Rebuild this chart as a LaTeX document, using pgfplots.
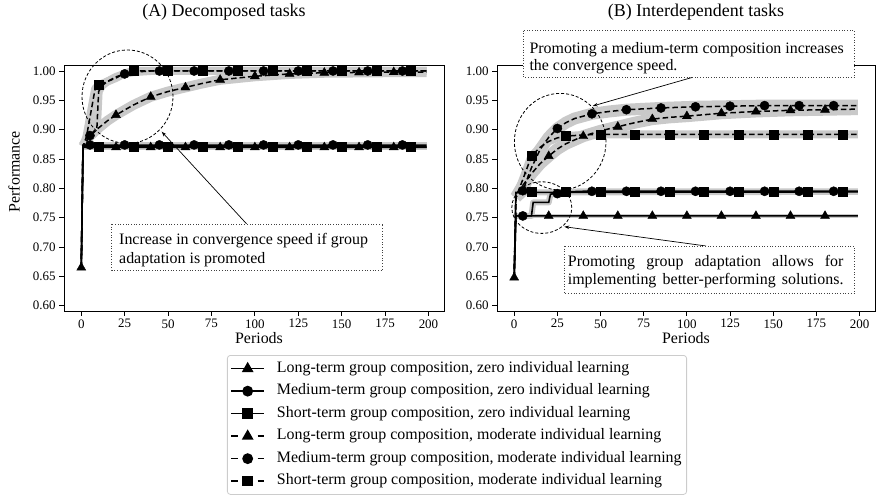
\documentclass[border=0pt]{standalone}
\usepackage{fontspec}
\setmainfont{Liberation Serif}
\usepackage{pgfplots}
\usepackage{pgfplotstable}
\pgfplotsset{compat=1.18}
\usetikzlibrary{arrows.meta}

% ---------- Panel A (decomposed) ----------
\pgfplotstableread{
t v
0 0.665
1 0.870
199 0.870
}\LZA
\pgfplotstableread{
t v
0 0.665
1 0.8735
199 0.8735
}\MZA
\pgfplotstableread{
t v
0 0.665
1 0.8705
199 0.8705
}\SZA
\pgfplotstableread{
t v
0 0.665
1 0.872
5 0.889
10 0.903
15 0.915
20 0.925
30 0.942
40 0.956
50 0.965
60 0.972
70 0.979
80 0.985
90 0.988
100 0.991
120 0.995
140 0.997
160 0.9975
180 0.998
199 0.998
}\LMA
\pgfplotstableread{
t v
0 0.665
1 0.872
5 0.890
9 0.903
10 0.965
12 0.975
15 0.982
20 0.990
25 0.995
30 0.998
40 1.000
199 1.000
}\MMA
\pgfplotstableread{
t v
0 0.665
1 0.872
3 0.888
8 0.970
10 0.976
15 0.982
20 0.988
25 0.996
30 1.000
199 1.000
}\SMA
% ---------- Panel B (interdependent) ----------
\pgfplotstableread{
t v
0 0.648
1 0.753
199 0.753
}\LZB
\pgfplotstableread{
t v
0 0.648
1 0.753
10 0.753
11 0.776
20 0.776
21 0.790
30 0.794
40 0.795
199 0.795
}\MZB
\pgfplotstableread{
t v
0 0.648
1 0.793
199 0.794
}\SZB
\pgfplotstableread{
t v
0 0.648
1 0.785
5 0.805
10 0.825
15 0.842
20 0.855
25 0.867
30 0.876
40 0.889
50 0.898
60 0.905
70 0.912
80 0.918
90 0.921
100 0.923
120 0.928
140 0.931
160 0.933
180 0.934
199 0.935
}\LMB
\pgfplotstableread{
t v
0 0.648
1 0.785
5 0.796
10 0.835
15 0.866
20 0.887
25 0.902
30 0.912
35 0.919
45 0.927
55 0.931
65 0.934
85 0.937
105 0.939
125 0.940
145 0.941
199 0.941
}\MMB
\pgfplotstableread{
t v
0 0.648
1 0.785
5 0.815
10 0.855
15 0.870
20 0.880
25 0.886
30 0.889
40 0.891
50 0.892
199 0.892
}\SMB

\pgfplotsset{
 myax/.style={
   scale only axis, width=380bp, height=246bp,
   xmin=-9.95, xmax=208.95, ymin=0.591, ymax=1.0102,
   xtick={0,25,50,75,100,125,150,175,200},
   ytick={0.60,0.65,0.70,0.75,0.80,0.85,0.90,0.95,1.00},
   yticklabel style={/pgf/number format/.cd, fixed, fixed zerofill, precision=2},
   /pgf/number format/assume math mode=true,
   ticklabel style={font=\fontsize{13}{15}\selectfont},
   tick align=outside, xtick pos=left, ytick pos=left,
   major tick length=4.9bp,
   tick style={black, line width=0.8bp},
   axis line style={black, line width=0.8bp},
   clip=false,
 },
 band/.style={draw=black!21, line width=#1, no marks, forget plot, line join=round, restrict x to domain=1:199},
 zl/.style={black, solid, line width=1.6bp, no marks, forget plot},
 ml/.style={black, dash pattern=on 5.5bp off 3bp, line width=1.5bp, no marks, forget plot},
 tri/.style={only marks, mark=triangle*, mark size=5.2bp, black, forget plot},
 cir/.style={only marks, mark=*, mark size=4.6bp, black, forget plot},
 sq/.style={only marks, mark=square*, mark size=4.5bp, black, forget plot},
}

\begin{document}
\begin{tikzpicture}
\useasboundingbox (0,0) rectangle (876bp,497bp);

% ================= Panel A =================
\begin{axis}[myax, at={(64bp,186bp)}, anchor=south west,
  legend style={at={(0.4289,-0.1789)}, anchor=north west, draw=black!20,
    rounded corners=3bp, line width=0.8bp, fill=white,
    font=\fontsize{16}{19}\selectfont, row sep=0bp,
    inner xsep=3bp, inner ysep=2bp,
    nodes={text height=13bp, text depth=5.5bp, inner sep=2bp},
    /tikz/every odd column/.append style={column sep=10bp}},
  legend cell align=left,
  legend image code/.code={\draw[mark repeat=2,mark phase=2,#1] plot coordinates {(0bp,0bp) (16.5bp,0bp) (33bp,0bp)};},
]
\addlegendimage{black, solid, line width=1.6bp, mark=triangle*, mark size=5.2bp, mark options={solid}}
\addlegendentry{Long-term group composition, zero individual learning}
\addlegendimage{black, solid, line width=1.6bp, mark=*, mark size=4.6bp, mark options={solid}}
\addlegendentry{Medium-term group composition, zero individual learning}
\addlegendimage{black, solid, line width=1.6bp, mark=square*, mark size=4.5bp, mark options={solid}}
\addlegendentry{Short-term group composition, zero individual learning}
\addlegendimage{black, line width=1.6bp, dash pattern=on 6.6bp off 19.8bp, mark=triangle*, mark size=5.2bp, mark options={solid}}
\addlegendentry{Long-term group composition, moderate individual learning}
\addlegendimage{black, line width=1.6bp, dash pattern=on 6.6bp off 19.8bp, mark=*, mark size=4.6bp, mark options={solid}}
\addlegendentry{Medium-term group composition, moderate individual learning}
\addlegendimage{black, line width=1.6bp, dash pattern=on 6.6bp off 19.8bp, mark=square*, mark size=4.5bp, mark options={solid}}
\addlegendentry{Short-term group composition, moderate individual learning}

% bands
\addplot[band=6bp] table[x=t,y=v] {\LZA};
\addplot[band=6bp] table[x=t,y=v] {\MZA};
\addplot[band=6bp] table[x=t,y=v] {\SZA};
\addplot[band=10bp] table[x=t,y=v] {\LMA};
\addplot[band=8bp] table[x=t,y=v] {\MMA};
\addplot[band=8bp] table[x=t,y=v] {\SMA};
% lines
\addplot[zl] table[x=t,y=v] {\LZA};
\addplot[zl] table[x=t,y=v] {\MZA};
\addplot[zl] table[x=t,y=v] {\SZA};
\addplot[ml] table[x=t,y=v] {\LMA};
\addplot[ml] table[x=t,y=v] {\MMA};
\addplot[ml] table[x=t,y=v] {\SMA};
% markers
\addplot[tri] coordinates {(0,0.665)(20,0.870)(40,0.870)(60,0.870)(80,0.870)(100,0.870)(120,0.870)(140,0.870)(160,0.870)(180,0.870)};
\addplot[cir] coordinates {(5,0.874)(25,0.874)(45,0.874)(65,0.874)(85,0.874)(105,0.874)(125,0.874)(145,0.874)(165,0.874)(185,0.874)};
\addplot[sq] coordinates {(10,0.8705)(30,0.8705)(50,0.8705)(70,0.8705)(90,0.8705)(110,0.8705)(130,0.8705)(150,0.8705)(170,0.8705)(190,0.8705)};
\addplot[tri] coordinates {(20,0.925)(40,0.956)(60,0.972)(80,0.985)(100,0.991)(120,0.995)(140,0.997)(160,0.9975)(180,0.998)};
\addplot[cir] coordinates {(5,0.890)(25,0.995)(45,1.0)(65,1.0)(85,1.0)(105,1.0)(125,1.0)(145,1.0)(165,1.0)(185,1.0)};
\addplot[sq] coordinates {(10,0.976)(30,1.0)(50,1.0)(70,1.0)(90,1.0)(110,1.0)(130,1.0)(150,1.0)(170,1.0)(190,1.0)};
\end{axis}

% ================= Panel B =================
\begin{axis}[myax, at={(497bp,186bp)}, anchor=south west, width=378bp]
\addplot[band=4bp] table[x=t,y=v] {\LZB};
\addplot[band=6bp] table[x=t,y=v] {\MZB};
\addplot[band=6bp] table[x=t,y=v] {\SZB};
\addplot[band=12bp] table[x=t,y=v] {\LMB};
\addplot[band=12bp] table[x=t,y=v] {\MMB};
\addplot[band=8bp] table[x=t,y=v] {\SMB};
\addplot[zl] table[x=t,y=v] {\LZB};
\addplot[zl] table[x=t,y=v] {\MZB};
\addplot[zl] table[x=t,y=v] {\SZB};
\addplot[ml] table[x=t,y=v] {\LMB};
\addplot[ml] table[x=t,y=v] {\MMB};
\addplot[ml] table[x=t,y=v] {\SMB};
\addplot[tri] coordinates {(0,0.648)(20,0.753)(40,0.753)(60,0.753)(80,0.753)(100,0.753)(120,0.753)(140,0.753)(160,0.753)(180,0.753)};
\addplot[cir] coordinates {(5,0.753)(25,0.791)(45,0.795)(65,0.795)(85,0.795)(105,0.795)(125,0.795)(145,0.795)(165,0.795)(185,0.795)};
\addplot[sq] coordinates {(10,0.794)(30,0.794)(50,0.794)(70,0.794)(90,0.794)(110,0.794)(130,0.794)(150,0.794)(170,0.794)(190,0.794)};
\addplot[tri] coordinates {(20,0.855)(40,0.889)(60,0.905)(80,0.918)(100,0.923)(120,0.928)(140,0.931)(160,0.933)(180,0.934)};
\addplot[cir] coordinates {(5,0.796)(25,0.902)(45,0.927)(65,0.934)(85,0.937)(105,0.939)(125,0.940)(145,0.941)(165,0.941)(185,0.941)};
\addplot[sq] coordinates {(10,0.855)(30,0.889)(50,0.892)(70,0.892)(90,0.892)(110,0.892)(130,0.892)(150,0.892)(170,0.892)(190,0.892)};
\end{axis}

% ================= Annotations (image pixel coordinates) =================
\begin{scope}[shift={(0,497bp)}, x=1bp, y=-1bp]
 \node[font=\fontsize{18}{21}\selectfont] at (224,12) {(A) Decomposed tasks};
 \node[font=\fontsize{18}{21}\selectfont] at (696,12) {(B) Interdependent tasks};
 \node[font=\fontsize{16}{19}\selectfont, rotate=90] at (14,171.7) {Performance};
 \node[font=\fontsize{16}{19}\selectfont] at (259,338) {Periods};
 \node[font=\fontsize{16}{19}\selectfont] at (686,338) {Periods};

 \tikzset{ell/.style={black, dash pattern=on 3bp off 2bp, line width=0.8bp},
          arr/.style={black, line width=0.7bp, -{Stealth[length=5bp,width=3.5bp]}},
          box/.style={black!75, dotted, line width=0.7bp, fill=white}}
 % Panel A
 \draw[ell] (127.5,96.7) ellipse [x radius=45.5bp, y radius=46.7bp];
 \draw[arr] (246.7,224) -- (161.7,131.7);
 \draw[box] (111.7,224) rectangle (382.7,270);
 \node[anchor=base west, inner sep=0, font=\fontsize{16}{19}\selectfont] at (119,245) {Increase in convergence speed if group};
 \node[anchor=base west, inner sep=0, font=\fontsize{16}{19}\selectfont] at (119,263.3) {adaptation is promoted};
 % Panel B
 \draw[ell] (560.2,141.7) ellipse [x radius=45.8bp, y radius=48.3bp];
 \draw[ell] (541.8,207.6) ellipse [x radius=30bp, y radius=25.8bp];
 \draw[arr] (692.7,77.3) -- (592.7,106);
 \draw[arr] (706,246) -- (564.3,226.7);
 \draw[box] (523.3,30.7) rectangle (854.3,77.3);
 \node[anchor=base west, inner sep=0, font=\fontsize{16}{19}\selectfont] at (529.3,53.3) {Promoting a medium-term composition increases};
 \node[anchor=base west, inner sep=0, font=\fontsize{16}{19}\selectfont] at (529.3,70.7) {the convergence speed.};
 \draw[box] (564.3,246) rectangle (854.3,293.3);
 \node[anchor=base west, inner sep=0, font=\fontsize{16}{19}\selectfont] at (567.7,266.7) {\hbox to 275.6bp{Promoting\hfill group\hfill adaptation\hfill allows\hfill for}};
 \node[anchor=base west, inner sep=0, font=\fontsize{16}{19}\selectfont] at (567.7,284.3) {\hbox to 275.6bp{implementing\hfill better-performing\hfill solutions.}};
\end{scope}
\end{tikzpicture}
\end{document}
